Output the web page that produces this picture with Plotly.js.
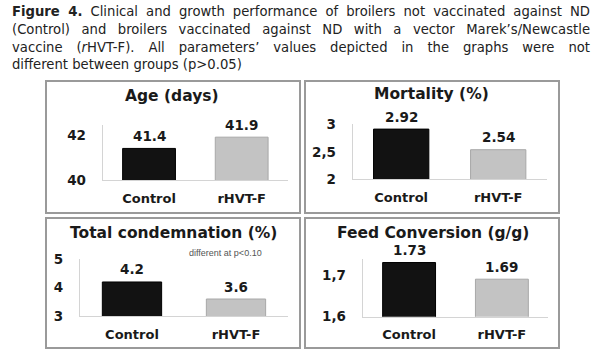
<!DOCTYPE html>
<html>
<head>
<meta charset="utf-8">
<script src="https://cdn.plot.ly/plotly-3.0.1.min.js"></script>
<style>
  html, body { margin: 0; padding: 0; background: #fff; }
  #wrap { position: relative; width: 600px; height: 350px; overflow: hidden; }
  #chart { position: absolute; left: 0; top: 0; width: 600px; height: 350px; }
  #caption { position: absolute; left: 12px; top: 3px; width: 578px; font-family: "DejaVu Sans", sans-serif; font-size: 13.2px; color: #222; line-height: 17.8px; }
  #caption div { text-align: justify; text-align-last: justify; white-space: nowrap; }
  #caption div.last { text-align-last: left; }
</style>
</head>
<body>
<div id="wrap">
  <div id="chart"></div>
  <div id="caption">
    <div><b>Figure 4.</b> Clinical and growth performance of broilers not vaccinated against ND</div>
    <div>(Control) and broilers vaccinated against ND with a vector Marek’s/Newcastle</div>
    <div>vaccine (<i>r</i>HVT-F). All parameters’ values depicted in the graphs were not</div>
    <div class="last">different between groups (p&gt;0.05)</div>
  </div>
</div>
<script>
// ---- data ----
const groups = ["Control", "rHVT-F"];
const ageDays = [41.4, 41.9];
const mortality = [2.92, 2.54];
const condemnation = [4.2, 3.6];
const feedConversion = [1.73, 1.69];
const ageLabels = ["41.4", "41.9"];
const mortalityLabels = ["2.92", "2.54"];
const condemnationLabels = ["4.2", "3.6"];
const feedLabels = ["1.73", "1.69"];
const ageTicks = [40, 42];
const ageTickText = ["40", "42"];
const mortTicks = [2, 2.5, 3];
const mortTickText = ["2", "2,5", "3"];
const condTicks = [3, 4, 5];
const condTickText = ["3", "4", "5"];
const feedTicks = [1.6, 1.7];
const feedTickText = ["1,6", "1,7"];
const panelTitles = ["Age (days)", "Mortality (%)", "Total condemnation (%)", "Feed Conversion (g/g)"];
const noteText = "different at p<0.10";

const barColors = ["#121212", "#c3c3c3"];
const barLines = ["#000000", "#a8a8a8"];
const boldFont = "DejaVu Sans, sans-serif";

const panels = [
  {vals: ageDays, labels: ageLabels, ticks: ageTicks, tickText: ageTickText, range: [40, 42.44], xd: [0.1712, 0.48], yd: [0.4857, 0.6429]},
  {vals: mortality, labels: mortalityLabels, ticks: mortTicks, tickText: mortTickText, range: [2, 3.005], xd: [0.5878, 0.9112], yd: [0.4886, 0.6443]},
  {vals: condemnation, labels: condemnationLabels, ticks: condTicks, tickText: condTickText, range: [3, 5.01], xd: [0.1333, 0.48], yd: [0.0971, 0.2600]},
  {vals: feedConversion, labels: feedLabels, ticks: feedTicks, tickText: feedTickText, range: [1.6, 1.7377], xd: [0.6045, 0.9138], yd: [0.0951, 0.2591]}
];

const data = [];
const layout = {
  width: 600, height: 350,
  margin: {l: 0, r: 0, t: 0, b: 0},
  paper_bgcolor: "#ffffff", plot_bgcolor: "rgba(0,0,0,0)",
  showlegend: false,
  bargap: 0.43,
  annotations: [],
  shapes: []
};

panels.forEach((p, i) => {
  const n = i + 1;
  const xa = n === 1 ? "x" : "x" + n;
  const ya = n === 1 ? "y" : "y" + n;
  data.push({
    type: "bar", x: groups, y: p.vals, xaxis: xa, yaxis: ya,
    marker: {color: barColors, line: {color: barLines, width: 1}},
    hoverinfo: "skip"
  });
  const xk = n === 1 ? "xaxis" : "xaxis" + n;
  const yk = n === 1 ? "yaxis" : "yaxis" + n;
  layout[xk] = {
    domain: p.xd, anchor: ya, type: "category",
    showline: true, linecolor: "#d4d4d4", linewidth: 1,
    showgrid: false, zeroline: false, ticks: "", ticklabelstandoff: 6,
    tickfont: {family: boldFont, size: 13, color: "#1a1a1a", weight: "bold"},
    fixedrange: true
  };
  layout[yk] = {
    domain: p.yd, anchor: xa, range: p.range,
    tickvals: p.ticks, ticktext: p.tickText,
    showline: true, linecolor: "#d4d4d4", linewidth: 1,
    showgrid: false, zeroline: false, ticks: "", ticklabelstandoff: 13,
    tickfont: {family: boldFont, size: 13.5, color: "#1a1a1a", weight: "bold"},
    fixedrange: true
  };
  p.vals.forEach((v, j) => {
    layout.annotations.push({
      xref: xa, yref: ya, x: groups[j], y: v, text: p.labels[j],
      showarrow: false, yanchor: "middle", yshift: 12.5,
      font: {family: boldFont, size: 13.5, color: "#1a1a1a", weight: "bold"}
    });
  });
});

// panel titles
const titlePos = [[171.7, 96.5], [431.7, 94.3], [173.3, 233.3], [433.3, 233.3]];
panelTitles.forEach((t, i) => {
  layout.annotations.push({
    xref: "paper", yref: "paper", x: titlePos[i][0] / 600, y: 1 - titlePos[i][1] / 350,
    text: t, showarrow: false, xanchor: "center", yanchor: "middle",
    font: {family: boldFont, size: 15.5, color: "#1a1a1a", weight: "bold"}
  });
});
layout.annotations.push({
  xref: "paper", yref: "paper", x: 225 / 600, y: 1 - 253.3 / 350,
  text: noteText, showarrow: false, xanchor: "center", yanchor: "middle",
  font: {family: "Liberation Sans, sans-serif", size: 9, color: "#555555"}
});

// panel frames
const frames = [[46, 81, 300, 213], [305, 81, 559, 213], [46, 218, 300, 348], [305, 218, 559, 348]];
frames.forEach(f => {
  layout.shapes.push({
    type: "rect", xref: "paper", yref: "paper",
    x0: f[0] / 600, x1: f[2] / 600, y0: 1 - f[3] / 350, y1: 1 - f[1] / 350,
    line: {color: "#9a9a9a", width: 2}, fillcolor: "rgba(0,0,0,0)"
  });
});

Plotly.newPlot("chart", data, layout, {staticPlot: true, displayModeBar: false});
</script>
</body>
</html>
